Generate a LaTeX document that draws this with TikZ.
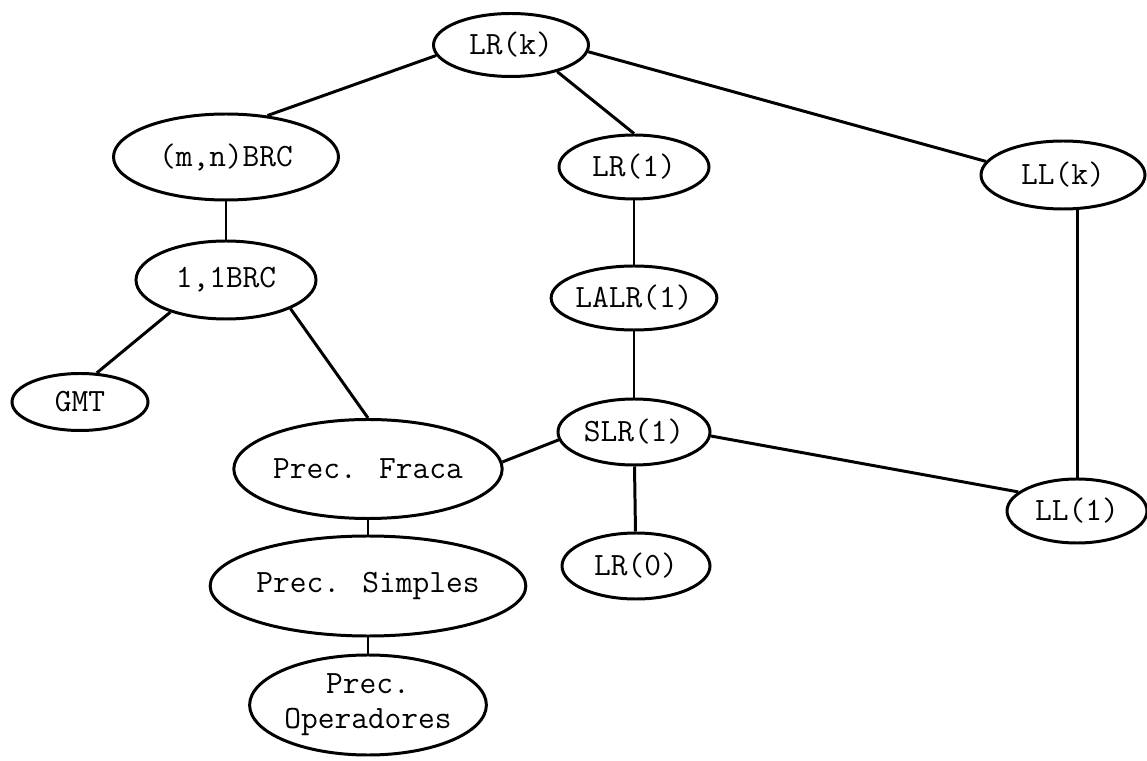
\documentclass[tikz,border=0pt]{standalone}
\usepackage{fontspec}
\usepackage{tikz}
\usetikzlibrary{shapes.geometric}

\begin{document}
\begin{tikzpicture}[
    cls/.style={ellipse, draw, line width=1.7pt, inner sep=0pt,
        font=\ttfamily\fontsize{18.5}{20}\selectfont\addfontfeatures{FakeBold=1},
        align=center},
    link/.style={line width=1.7pt},
]
\useasboundingbox (0, 0) rectangle (22.94, -15.22);

% === LR family ===
\node[cls, minimum width=3.1cm, minimum height=1.26cm] (lrk) at (10.22, -0.9) {LR(k)};
\node[cls, minimum width=3.0cm, minimum height=1.28cm] (lr1) at (12.68, -3.34) {LR(1)};
\node[cls, minimum width=2.96cm, minimum height=1.28cm] (lalr1) at (12.68, -5.96) {LALR(1)};
\node[cls, minimum width=3.04cm, minimum height=1.32cm] (slr1) at (12.68, -8.64) {SLR(1)};
\node[cls, minimum width=2.96cm, minimum height=1.32cm] (lr0) at (12.72, -11.32) {LR(0)};

% === LL family ===
\node[cls, minimum width=3.28cm, minimum height=1.36cm] (llk) at (21.26, -3.5) {LL(k)};
\node[cls, minimum width=2.8cm, minimum height=1.28cm] (ll1) at (21.54, -10.22) {LL(1)};

% === BRC / precedence ===
\node[cls, minimum width=4.5cm, minimum height=1.72cm] (mnbrc) at (4.52, -3.14) {(m,n)BRC};
\node[cls, minimum width=3.6cm, minimum height=1.56cm] (brc11) at (4.52, -5.6) {1,1BRC};
\node[cls, minimum width=2.72cm, minimum height=1.14cm] (gmt) at (1.6, -8.04) {GMT};
\node[cls, minimum width=4.56cm, minimum height=1.98cm] (fraca) at (7.36, -9.38) {Prec. Fraca};
\node[cls, minimum width=4.56cm, minimum height=2.0cm] (simples) at (7.36, -11.72) {Prec. Simples};
\node[cls, minimum width=4.52cm, minimum height=2.0cm] (operadores) at (7.36, -14.1) {Prec.\\Operadores};

% === EDGES ===
\draw[link] (lrk.188) -- (mnbrc.45);
\draw[link] (lrk.-30) -- (lr1.north);
\draw[link] (lrk.-5) -- (llk.170);
\draw[link] (lr1) -- (lalr1);
\draw[link] (lalr1) -- (slr1);
\draw[link] (slr1) -- (lr0);
\draw[link] (ll1.north |- llk.south) -- (ll1.north);
\draw[link] (mnbrc) -- (brc11);
\draw[link] (brc11.210) -- (gmt.60);
\draw[link] (brc11.-24) -- (fraca.north);
\draw[link] (fraca.3) -- (slr1.186);
\draw[link] (slr1.-3) -- (ll1.162);
\draw[link] (fraca) -- (simples);
\draw[link] (simples) -- (operadores);

\end{tikzpicture}
\end{document}
